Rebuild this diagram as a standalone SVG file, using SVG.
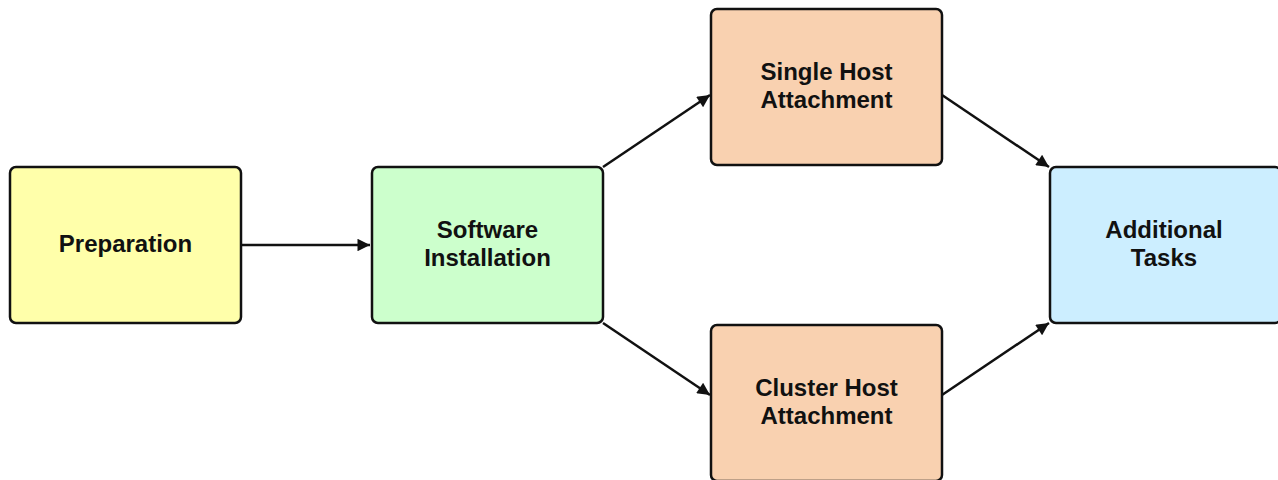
<svg xmlns="http://www.w3.org/2000/svg" width="1278" height="480" viewBox="0 0 1278 480">
<defs>
<style>
.box{stroke:#111;stroke-width:2.5}
.lbl{font-family:"Liberation Sans",Arial,sans-serif;font-weight:bold;font-size:24px;fill:#111;text-anchor:middle}
.conn{stroke:#111;stroke-width:2.5;fill:none;marker-end:url(#ah)}
</style>
<marker id="ah" viewBox="0 0 10 10" refX="10" refY="5" markerWidth="6" markerHeight="5" markerUnits="strokeWidth" orient="auto">
<path d="M0,0 L10,5 L0,10 z" fill="#111"/>
</marker>
</defs>
<rect width="1278" height="480" fill="#fff"/>
<g id="connectors">
<line class="conn" x1="242" y1="245" x2="370" y2="245"/>
<line class="conn" x1="603" y1="167" x2="710" y2="95"/>
<line class="conn" x1="603" y1="323" x2="710" y2="395"/>
<line class="conn" x1="942" y1="95" x2="1049" y2="167"/>
<line class="conn" x1="942" y1="395" x2="1049" y2="323"/>
</g>
<g id="preparation">
<rect class="box" x="10" y="167" width="231" height="156" rx="6" fill="#ffffaa"/>
<text class="lbl" x="125.5" y="252">Preparation</text>
</g>
<g id="software">
<rect class="box" x="372" y="167" width="231" height="156" rx="6" fill="#ccffcc"/>
<text class="lbl" x="487.5" y="238">Software</text>
<text class="lbl" x="487.5" y="266">Installation</text>
</g>
<g id="single">
<rect class="box" x="711" y="9" width="231" height="156" rx="6" fill="#f9d1b0"/>
<text class="lbl" x="826.5" y="80">Single Host</text>
<text class="lbl" x="826.5" y="108">Attachment</text>
</g>
<g id="cluster">
<rect class="box" x="711" y="325" width="231" height="156" rx="6" fill="#f9d1b0"/>
<text class="lbl" x="826.5" y="396">Cluster Host</text>
<text class="lbl" x="826.5" y="424">Attachment</text>
</g>
<g id="additional">
<rect class="box" x="1050" y="167" width="231" height="156" rx="6" fill="#cceeff"/>
<text class="lbl" x="1164" y="238">Additional</text>
<text class="lbl" x="1164" y="266">Tasks</text>
</g>
</svg>
